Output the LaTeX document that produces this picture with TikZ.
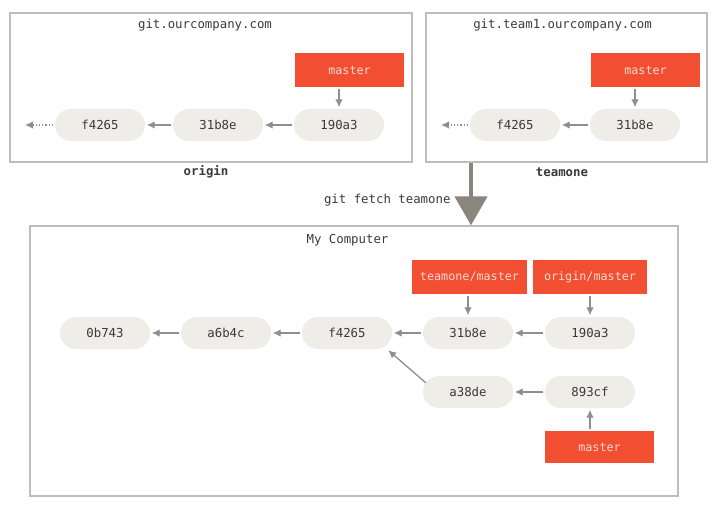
\documentclass[tikz,border=0pt]{standalone}
\usepackage{fontspec}
\setmainfont{DejaVu Sans Mono}
\usetikzlibrary{arrows.meta,calc}
\definecolor{commitfill}{HTML}{EEEDE7}
\definecolor{labelred}{HTML}{F14E32}
\definecolor{arrowgray}{HTML}{8E8E8E}
\definecolor{fetchgray}{HTML}{8A857F}
\definecolor{boxgray}{HTML}{BDBDBD}
\definecolor{textdark}{HTML}{3A3A3A}
\definecolor{labeltext}{HTML}{FADAD2}
\tikzset{
  txt/.style={font=\fontsize{12.4}{14}\selectfont},
  commit/.style={txt, fill=commitfill, rounded corners=16bp, minimum width=90bp,
    minimum height=32bp, inner sep=0pt, text=textdark},
  reflabel/.style={font=\fontsize{11.8}{14}\selectfont, fill=labelred, minimum height=34bp, inner sep=0pt, text=labeltext},
  repobox/.style={draw=boxgray, line width=1.3bp, inner sep=0pt},
  title/.style={txt, text=textdark},
  boldtitle/.style={font=\fontsize{12.4}{14}\selectfont\bfseries, text=textdark},
  link/.style={draw=arrowgray, line width=1.3bp, -{Latex[length=8bp,width=7.5bp]},
    shorten >=1.5bp, shorten <=1.5bp},
  dotlink/.style={link, dotted, shorten >=0pt},
  fetch/.style={draw=fetchgray, line width=4.5bp, -{Triangle[length=29bp,width=32bp]}}
}
\begin{document}
\begin{tikzpicture}[x=1bp,y=-1bp]
\useasboundingbox[fill=white] (0,0) rectangle (720,515);

% repository boxes
\node[repobox, minimum width=402bp, minimum height=149bp] (originbox) at (211,87.5) {};
\node[repobox, minimum width=281bp, minimum height=149bp] (teambox) at (566.5,87.5) {};
\node[repobox, minimum width=648bp, minimum height=270bp] (mycomp) at (354,361) {};

% titles
\node[title] (t1) at (205,25) {git.ourcompany.com};
\node[title] (t2) at (562.5,25) {git.team1.ourcompany.com};
\node[boldtitle] (t3) at (206,172) {origin};
\node[boldtitle] (t4) at (562,172) {teamone};
\node[title] (t5) at (347.5,240) {My Computer};

% origin repo
\node[commit] (of4265) at (100,125) {f4265};
\node[commit] (o31b8e) at (218,125) {31b8e};
\node[commit] (o190a3) at (339,125) {190a3};
\node[reflabel, minimum width=109bp] (omaster) at (349.5,70) {master};
\coordinate (otail) at (25,125);
\draw[link] (o31b8e) -- (of4265);
\draw[link] (o190a3) -- (o31b8e);
\draw[dotlink] (of4265) -- (otail);
\draw[link] (omaster.south -| o190a3.north) -- (o190a3.north);

% teamone repo
\node[commit] (tf4265) at (515,125) {f4265};
\node[commit] (t31b8e) at (635,125) {31b8e};
\node[reflabel, minimum width=109bp] (tmaster) at (645.5,70) {master};
\coordinate (ttail) at (441,125);
\draw[link] (t31b8e) -- (tf4265);
\draw[dotlink] (tf4265) -- (ttail);
\draw[link] (tmaster.south -| t31b8e.north) -- (t31b8e.north);

% fetch arrow
\coordinate (fetchtop) at (471,162.6);
\draw[fetch] (fetchtop) -- (fetchtop |- mycomp.north);
\node[title, anchor=east] (fetchlbl) at (454,200) {git fetch teamone};

% my computer
\node[commit] (m0b743) at (105,333) {0b743};
\node[commit] (ma6b4c) at (226,333) {a6b4c};
\node[commit] (mf4265) at (347,333) {f4265};
\node[commit] (m31b8e) at (468,333) {31b8e};
\node[commit] (m190a3) at (590,333) {190a3};
\node[commit] (ma38de) at (468,392) {a38de};
\node[commit] (m893cf) at (590,392) {893cf};
\node[reflabel, minimum width=115bp] (mteam) at (469.5,277) {teamone/master};
\node[reflabel, minimum width=114bp] (morigin) at (590,277) {origin/master};
\node[reflabel, minimum width=109bp, minimum height=32bp] (mmaster) at (599.5,447) {master};

\draw[link] (ma6b4c) -- (m0b743);
\draw[link] (mf4265) -- (ma6b4c);
\draw[link] (m31b8e) -- (mf4265);
\draw[link] (m190a3) -- (m31b8e);
\draw[link] (m893cf) -- (ma38de);
\draw[link, shorten <=0pt, shorten >=0pt] ([xshift=3bp,yshift=-7bp]ma38de.north west) -- ([xshift=-4bp,yshift=-1bp]mf4265.south east);
\draw[link] (mteam.south -| m31b8e.north) -- (m31b8e.north);
\draw[link] (morigin.south -| m190a3.north) -- (m190a3.north);
\draw[link] (mmaster.north -| m893cf.south) -- (m893cf.south);
\end{tikzpicture}
\end{document}
